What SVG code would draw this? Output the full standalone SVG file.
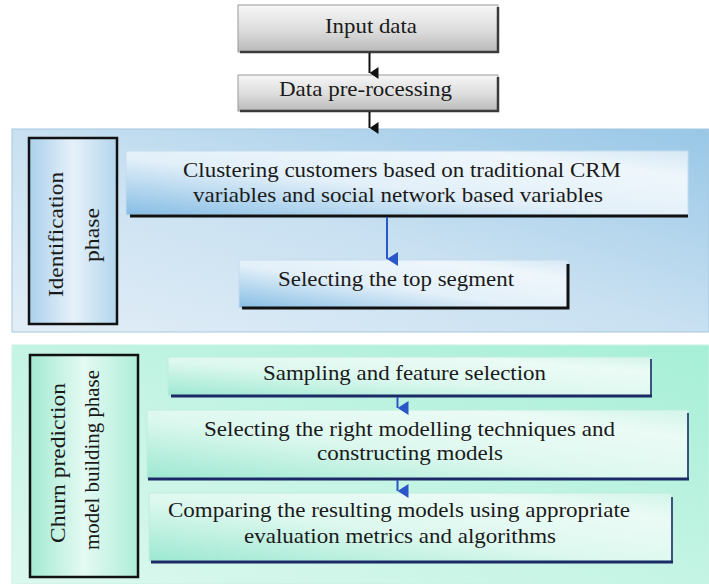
<svg xmlns="http://www.w3.org/2000/svg" width="709" height="584" viewBox="0 0 709 584">
<defs>
  <linearGradient id="gGrey" x1="0" y1="0" x2="0" y2="1">
    <stop offset="0" stop-color="#f6f6f6"/>
    <stop offset="0.55" stop-color="#dcdcdc"/>
    <stop offset="1" stop-color="#b9b9b9"/>
  </linearGradient>
  <linearGradient id="gPanel1" x1="1" y1="0" x2="0" y2="1">
    <stop offset="0" stop-color="#98c7e7"/>
    <stop offset="0.5" stop-color="#c8e0f1"/>
    <stop offset="1" stop-color="#e2eef7"/>
  </linearGradient>
  <linearGradient id="gPanel2" x1="1" y1="0" x2="0" y2="1">
    <stop offset="0" stop-color="#a6efd6"/>
    <stop offset="0.5" stop-color="#c4f4e4"/>
    <stop offset="1" stop-color="#dcf8ee"/>
  </linearGradient>
  <linearGradient id="gBlueBox" x1="0" y1="1" x2="1" y2="0">
    <stop offset="0" stop-color="#86bde4"/>
    <stop offset="0.45" stop-color="#e3f0f9"/>
    <stop offset="0.8" stop-color="#eef6fb"/>
    <stop offset="1" stop-color="#d5e8f5"/>
  </linearGradient>
  <linearGradient id="gBlueSide" x1="0" y1="0" x2="1" y2="0">
    <stop offset="0" stop-color="#a9d0ec"/>
    <stop offset="0.5" stop-color="#e6f1f9"/>
    <stop offset="1" stop-color="#b3d6ee"/>
  </linearGradient>
  <linearGradient id="gMintBox" x1="0" y1="1" x2="1" y2="0">
    <stop offset="0" stop-color="#9ce8d0"/>
    <stop offset="0.45" stop-color="#ddf8ef"/>
    <stop offset="0.8" stop-color="#ebfbf5"/>
    <stop offset="1" stop-color="#d2f5e9"/>
  </linearGradient>
  <linearGradient id="gMintSide" x1="0" y1="0" x2="1" y2="0">
    <stop offset="0" stop-color="#a3ead3"/>
    <stop offset="0.5" stop-color="#e4faf2"/>
    <stop offset="1" stop-color="#aeeed9"/>
  </linearGradient>
  <marker id="mBlack" markerUnits="userSpaceOnUse" viewBox="0 0 12 9" refX="6" refY="9" markerWidth="12" markerHeight="9" orient="auto-start-reverse">
    <path d="M0,0 L12,0 L6,9 Z" fill="#111"/>
  </marker>
  <marker id="mBlue" markerUnits="userSpaceOnUse" viewBox="0 0 14 11" refX="7" refY="11" markerWidth="14" markerHeight="11" orient="auto-start-reverse">
    <path d="M0,0 L14,0 L7,11 Z" fill="#2a56c8"/>
  </marker>
  <style>
    text { font-family: "Liberation Serif", "Times New Roman", serif; fill: #1a1a1a; }
    .h { font-size: 21px; text-anchor: middle; }
    .v { font-size: 22px; text-anchor: middle; }
    .greyBox { fill: url(#gGrey); stroke: #9a9a9a; stroke-width: 1; }
    .shadowDark { stroke: #3a3a3a; stroke-width: 2.5; fill: none; }
    .blueBox { fill: url(#gBlueBox); stroke: #c4dcee; stroke-width: 1; }
    .mintBox { fill: url(#gMintBox); stroke: #bfeede; stroke-width: 1; }
    .blackEdge { stroke: #111; stroke-width: 3; fill: none; }
    .navyEdge { stroke: #1b2a66; stroke-width: 3; fill: none; }
    .navySide { stroke: #1b2a66; stroke-width: 1.6; fill: none; }
    .phase { stroke: #111; stroke-width: 2.5; }
  </style>
</defs>

<rect width="709" height="584" fill="#ffffff"/>

<g id="panel-identification">
  <rect x="12" y="129" width="697" height="203" fill="url(#gPanel1)" stroke="#a6c8df" stroke-width="1"/>
</g>
<g id="panel-churn">
  <rect x="12" y="345" width="697" height="239" fill="url(#gPanel2)" stroke="#c7f2e3" stroke-width="1"/>
</g>

<g id="node-input">
  <rect class="greyBox" x="238" y="5" width="260" height="47"/>
  <polyline class="shadowDark" points="240,52 498,52 498,7"/>
  <text class="h" x="371" y="33" textLength="92" lengthAdjust="spacingAndGlyphs">Input data</text>
</g>

<g id="node-preprocessing">
  <rect class="greyBox" x="238" y="75" width="260" height="36"/>
  <polyline class="shadowDark" points="240,111 498,111 498,77"/>
  <text class="h" x="365.5" y="96" textLength="173" lengthAdjust="spacingAndGlyphs">Data pre-rocessing</text>
</g>

<g id="label-identification">
  <rect class="phase" x="29" y="138" width="88" height="186" fill="url(#gBlueSide)"/>
  <text class="v" transform="translate(63,234.5) rotate(-90)" textLength="125" lengthAdjust="spacingAndGlyphs">Identification</text>
  <text class="v" transform="translate(99,235) rotate(-90)" textLength="54" lengthAdjust="spacingAndGlyphs">phase</text>
</g>

<g id="node-clustering">
  <rect class="blueBox" x="126" y="151" width="562" height="64"/>
  <line class="blackEdge" x1="130" y1="216" x2="688" y2="216"/>
  <text class="h" x="402" y="177" textLength="438" lengthAdjust="spacingAndGlyphs">Clustering customers based on traditional CRM</text>
  <text class="h" x="398" y="202" textLength="410" lengthAdjust="spacingAndGlyphs">variables and social network based variables</text>
</g>

<g id="node-top-segment">
  <rect class="blueBox" x="239" y="260" width="329" height="48"/>
  <polyline class="blackEdge" points="242,308 568,308 568,264"/>
  <text class="h" x="396" y="286" textLength="236" lengthAdjust="spacingAndGlyphs">Selecting the top segment</text>
</g>

<g id="label-churn">
  <rect class="phase" x="30" y="355" width="108" height="222" fill="url(#gMintSide)"/>
  <text class="v" transform="translate(65,463) rotate(-90)" textLength="160" lengthAdjust="spacingAndGlyphs">Churn prediction</text>
  <text class="v" transform="translate(99,460) rotate(-90)" textLength="180" lengthAdjust="spacingAndGlyphs">model building phase</text>
</g>

<g id="node-sampling">
  <rect class="mintBox" x="168" y="357" width="483" height="39"/>
  <line class="navySide" x1="651" y1="359" x2="651" y2="396"/>
  <line class="navyEdge" x1="171" y1="396" x2="652" y2="396"/>
  <text class="h" x="404.5" y="380" textLength="283" lengthAdjust="spacingAndGlyphs">Sampling and feature selection</text>
</g>

<g id="node-modelling">
  <rect class="mintBox" x="147" y="410" width="541" height="69"/>
  <line class="navySide" x1="688" y1="413" x2="688" y2="479"/>
  <line class="navyEdge" x1="148" y1="479" x2="689" y2="479"/>
  <text class="h" x="409.5" y="436" textLength="411" lengthAdjust="spacingAndGlyphs">Selecting the right modelling techniques and</text>
  <text class="h" x="410" y="460" textLength="186" lengthAdjust="spacingAndGlyphs">constructing models</text>
</g>

<g id="node-comparing">
  <rect class="mintBox" x="149" y="493" width="523" height="68"/>
  <line class="navySide" x1="672" y1="497" x2="672" y2="562"/>
  <line class="navyEdge" x1="151" y1="562" x2="673" y2="562"/>
  <text class="h" x="399" y="517" textLength="462" lengthAdjust="spacingAndGlyphs">Comparing the resulting models using appropriate</text>
  <text class="h" x="400" y="543" textLength="312" lengthAdjust="spacingAndGlyphs">evaluation metrics and algorithms</text>
</g>

<g id="connectors">
  <line x1="369.5" y1="53" x2="369.5" y2="73" stroke="#111" stroke-width="2" marker-end="url(#mBlack)"/>
  <line x1="369.5" y1="112" x2="369.5" y2="128" stroke="#111" stroke-width="2" marker-end="url(#mBlack)"/>
  <line x1="387" y1="217" x2="387" y2="259" stroke="#2a56c8" stroke-width="2" marker-end="url(#mBlue)"/>
  <line x1="397.5" y1="397" x2="397.5" y2="408" stroke="#2a56c8" stroke-width="2" marker-end="url(#mBlue)"/>
  <line x1="397.5" y1="480" x2="397.5" y2="491" stroke="#2a56c8" stroke-width="2" marker-end="url(#mBlue)"/>
</g>
</svg>
